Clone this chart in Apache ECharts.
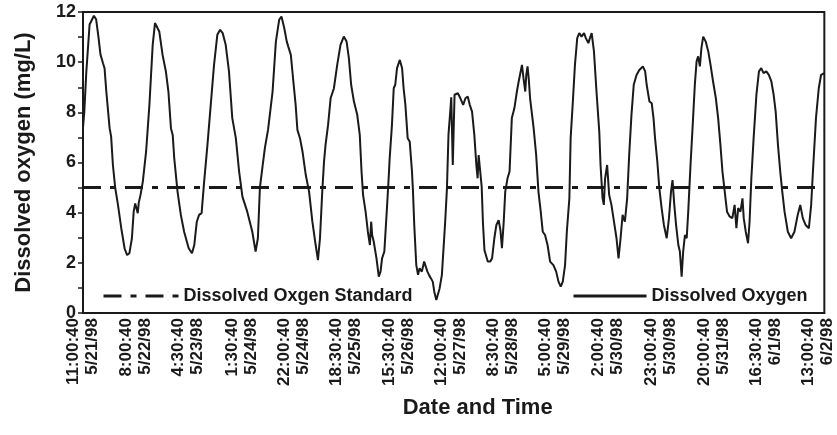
<!DOCTYPE html>
<html>
<head>
<meta charset="utf-8">
<script src="https://cdn.jsdelivr.net/npm/echarts@6/dist/echarts.min.js"></script>
<style>
  html, body { margin: 0; padding: 0; background: #fff; }
  #chart { width: 837px; height: 435px; }
</style>
</head>
<body>
<div id="chart"></div>
<script>
// hours after 5/21/98 11:00:40 where the category labels sit
const tickHours = [0, 21, 41.5, 62.5, 83, 103.5, 124.5, 145, 165.5, 186, 207, 228, 249, 269.5, 290]
const tickTimes = ['11:00:40', '8:00:40', '4:30:40', '1:30:40', '22:00:40', '18:30:40', '15:30:40',
  '12:00:40', '8:30:40', '5:00:40', '2:00:40', '23:00:40', '20:00:40', '16:30:40', '13:00:40']
const tickDates = ['5/21/98', '5/22/98', '5/23/98', '5/24/98', '5/24/98', '5/25/98', '5/26/98',
  '5/27/98', '5/28/98', '5/29/98', '5/30/98', '5/30/98', '5/31/98', '6/1/98', '6/2/98']

// dissolved oxygen readings (mg/L)
const elapsedHours = [
  0.0, 0.5, 1.3, 2.6, 4.3, 5.2, 6.1, 6.9, 7.9, 8.5, 9.2, 10.5, 11.1, 11.8, 12.7, 13.8, 15.1, 16.4, 17.4, 18.3,
  19.3, 20.0, 20.6, 21.3, 21.6, 22.0, 22.7, 23.6, 24.9, 26.2, 27.5, 28.4, 28.9, 30.1, 31.4, 32.7, 33.7, 34.7, 35.4, 36.0,
  37.3, 38.6, 39.9, 41.7, 43.0, 43.9, 44.9, 45.8, 46.8, 47.8, 49.1, 50.4, 51.7, 53.0, 54.1, 55.1, 56.3, 57.6, 58.9, 60.3,
  61.6, 62.9, 64.8, 66.8, 68.1, 69.0, 69.8, 70.9, 71.8, 73.0, 74.8, 76.1, 77.4, 78.3, 79.4, 80.4, 81.0, 81.5, 82.0, 83.0,
  83.9, 84.6, 85.6, 86.6, 87.9, 89.2, 90.5, 91.8, 92.7, 93.5, 94.4, 95.1, 95.7, 96.7, 97.7, 99.0, 100.3, 101.6, 102.9, 104.0,
  104.9, 105.8, 106.9, 108.2, 109.2, 109.9, 110.5, 111.5, 112.4, 113.2, 113.7, 114.1, 114.7, 115.8, 116.7, 117.4, 118.0, 118.9, 120.0, 120.6,
  121.0, 121.9, 122.6, 123.2, 123.9, 125.0, 125.9, 126.5, 127.2, 128.1, 128.9, 129.8, 130.2, 130.7, 131.5, 132.2, 132.8, 133.7, 134.6, 135.3,
  135.9, 136.6, 137.3, 138.0, 138.6, 139.4, 139.9, 140.7, 141.6, 142.5, 142.9, 143.6, 144.2, 144.9, 145.3, 145.9, 146.6, 147.9, 148.9, 150.0,
  150.9, 151.8, 152.6, 153.5, 154.4, 155.2, 155.7, 156.1, 156.8, 157.3, 157.8, 158.4, 159.7, 160.7, 161.4, 162.3, 163.1, 164.0, 164.7, 165.3,
  166.0, 166.6, 167.5, 168.3, 169.2, 170.2, 171.2, 171.9, 172.5, 173.2, 173.8, 174.5, 174.9, 175.4, 175.9, 176.4, 177.8, 178.8, 179.7, 180.6,
  181.4, 182.3, 183.3, 184.3, 185.6, 186.7, 187.6, 188.5, 189.3, 190.2, 190.9, 191.5, 191.9, 192.4, 193.2, 194.1, 195.0, 195.8, 196.7, 197.7,
  198.4, 199.4, 200.0, 200.7, 201.6, 202.6, 203.7, 204.2, 205.0, 205.5, 206.0, 206.8, 207.6, 208.5, 209.5, 210.5, 211.3, 212.1, 212.9, 213.8,
  214.7, 215.5, 216.4, 217.3, 218.4, 219.5, 220.9, 221.8, 222.4, 223.5, 224.4, 225.1, 225.7, 226.6, 227.4, 228.3, 229.2, 230.3, 231.2, 232.0,
  232.6, 233.3, 234.0, 234.9, 235.5, 236.2, 236.8, 237.5, 238.2, 238.8, 239.7, 240.5, 241.4, 242.1, 242.7, 243.4, 244.0, 244.7, 245.7, 246.7,
  247.6, 248.6, 249.7, 250.6, 251.5, 252.3, 253.2, 254.1, 255.2, 256.2, 257.1, 257.8, 258.5, 259.4, 260.2, 260.7, 261.5, 262.4, 263.0, 263.7,
  264.6, 265.7, 266.7, 267.6, 268.5, 269.6, 270.6, 271.6, 272.5, 273.3, 274.2, 275.1, 275.9, 276.8, 278.1, 279.4, 280.7, 282.0, 283.0, 284.0,
  285.1, 286.4, 287.3, 288.0, 289.2, 290.3, 291.2, 292.5
]
const oxygen = [
  7.4, 8.0, 9.6, 11.5, 11.85, 11.7, 11.0, 10.3, 9.96, 9.76, 8.83, 7.37, 7.03, 5.9, 5.0, 4.31, 3.38, 2.58, 2.31, 2.38,
  2.98, 4.04, 4.37, 4.3, 3.98, 4.4, 4.71, 5.24, 6.44, 8.3, 10.69, 11.56, 11.62, 11.22, 10.29, 9.63, 8.83, 7.37, 7.1, 6.17,
  4.84, 3.91, 3.24, 2.58, 2.38, 2.71, 3.64, 3.91, 3.98, 5.24, 6.7, 8.3, 9.89, 11.09, 11.29, 11.16, 10.69, 9.63, 7.77, 6.97,
  5.64, 4.64, 4.04, 3.24, 2.45, 2.98, 5.0, 5.9, 6.6, 7.3, 8.83, 10.82, 11.69, 11.82, 11.36, 10.82, 10.62, 10.68, 10.29, 9.23,
  8.3, 7.3, 6.97, 6.44, 5.5, 4.84, 3.64, 2.71, 2.11, 2.98, 4.84, 6.04, 6.7, 7.5, 8.56, 8.96, 9.89, 10.69, 11.02, 10.82,
  10.16, 9.1, 8.43, 7.9, 7.1, 5.64, 4.71, 4.04, 3.24, 2.71, 3.64, 3.1, 2.85, 2.18, 1.45, 1.65, 2.18, 2.45, 4.31, 5.37,
  6.17, 7.5, 8.96, 9.1, 9.76, 10.09, 9.76, 8.96, 8.3, 6.97, 6.84, 5.64, 4.84, 3.51, 1.91, 1.52, 1.78, 1.65, 2.05, 1.98,
  1.65, 1.5, 1.38, 1.25, 0.85, 0.52, 0.58, 0.98, 1.52, 2.98, 3.64, 4.97, 7.1, 8.03, 8.6, 5.9, 8.7, 8.76, 8.56, 8.3,
  8.56, 8.63, 8.3, 8.03, 7.1, 5.9, 5.37, 6.3, 6.37, 5.04, 3.6, 2.5, 2.05, 2.05, 2.18, 2.98, 3.51, 3.7, 3.3, 2.58,
  3.64, 4.84, 5.37, 5.64, 7.77, 8.16, 8.83, 9.23, 9.3, 9.89, 9.36, 8.83, 9.49, 9.83, 9.3, 8.56, 7.37, 6.3, 4.84, 4.04,
  3.24, 3.11, 2.71, 2.05, 1.91, 1.65, 1.25, 1.05, 1.25, 1.91, 3.24, 4.04, 4.57, 6.97, 8.3, 9.89, 10.96, 11.16, 11.02, 11.16,
  10.96, 10.76, 10.96, 11.16, 10.43, 8.83, 7.23, 5.9, 4.57, 4.31, 5.37, 5.9, 4.71, 4.31, 3.64, 2.98, 2.18, 2.98, 3.91, 3.64,
  4.57, 6.3, 7.9, 9.1, 9.49, 9.69, 9.83, 9.63, 9.1, 8.43, 8.36, 7.77, 6.97, 6.04, 4.97, 4.18, 3.51, 2.98, 3.78, 4.84,
  5.3, 4.31, 3.51, 2.71, 2.45, 1.45, 2.45, 3.11, 2.98, 4.04, 5.9, 7.37, 9.1, 10.03, 10.23, 9.83, 10.56, 11.02, 10.82, 10.43,
  9.89, 9.23, 8.56, 7.77, 6.7, 5.64, 4.84, 4.04, 3.84, 3.78, 4.31, 3.38, 4.18, 4.04, 4.57, 3.78, 3.24, 2.78, 3.64, 5.37,
  6.97, 8.7, 9.63, 9.76, 9.56, 9.63, 9.49, 9.23, 8.7, 8.03, 6.7, 5.64, 4.84, 4.04, 3.24, 2.98, 3.24, 3.91, 4.31, 3.78,
  3.51, 3.38, 4.31, 5.64, 7.77, 8.96, 9.49, 9.56
]
const standardLevel = 5
const axisEndHours = 292.5

const ink = '#1a1a1a'
const font = 'Liberation Sans, Arial, Helvetica, sans-serif'
const legendText = { fontSize: 18, fontWeight: 'bold', color: ink, fontFamily: font }

const chart = echarts.init(document.getElementById('chart'))
chart.setOption({
  animation: false,
  textStyle: { fontFamily: font, color: ink, fontWeight: 'bold' },
  grid: {
    left: 83,
    right: 10,
    top: 12,
    bottom: 122,
    show: true,
    borderColor: ink,
    borderWidth: 2,
  },
  legend: [
    {
      data: ['Dissolved Oxgen Standard'],
      left: 102,
      top: 287,
      padding: 0,
      itemWidth: 75,
      itemHeight: 20,
      itemStyle: { opacity: 0 },
      lineStyle: { width: 3 },
      textStyle: legendText,
    },
    {
      data: ['Dissolved Oxygen'],
      left: 572,
      top: 287,
      padding: 0,
      itemWidth: 73,
      itemHeight: 20,
      itemStyle: { opacity: 0 },
      lineStyle: { width: 3 },
      textStyle: legendText,
    },
  ],
  xAxis: {
    type: 'value',
    min: 0,
    max: axisEndHours,
    name: 'Date and Time',
    nameLocation: 'middle',
    nameGap: 84,
    nameTextStyle: { fontSize: 22, fontWeight: 'bold', color: ink, padding: [0, 0, 0, 48] },
    splitLine: { show: false },
    axisLine: { lineStyle: { color: ink, width: 2 } },
    axisTick: { show: false },
    axisLabel: {
      customValues: tickHours,
      rotate: 90,
      margin: 5,
      fontSize: 17,
      lineHeight: 19,
      fontWeight: 'bold',
      color: ink,
      formatter: (v) => {
        const i = tickHours.indexOf(v)
        return i < 0 ? '' : tickTimes[i] + '\n' + tickDates[i]
      },
    },
  },
  yAxis: {
    type: 'value',
    min: 0,
    max: 12,
    interval: 1,
    name: 'Dissolved oxygen (mg/L)',
    nameLocation: 'middle',
    nameRotate: 90,
    nameGap: 48,
    nameTextStyle: { fontSize: 22, fontWeight: 'bold', color: ink },
    splitLine: { show: false },
    axisLine: { show: true, lineStyle: { color: ink, width: 2 } },
    axisTick: { show: true, length: 5, lineStyle: { color: ink, width: 1.5 } },
    axisLabel: {
      margin: 7,
      fontSize: 18,
      fontWeight: 'bold',
      color: ink,
      formatter: (v) => (v % 2 === 0 ? String(v) : ''),
    },
  },
  series: [
    {
      name: 'Dissolved Oxgen Standard',
      type: 'line',
      symbol: 'none',
      data: [[0, standardLevel], [axisEndHours, standardLevel]],
      lineStyle: { color: ink, width: 3, type: [18, 9, 6, 9] },
      itemStyle: { color: ink },
    },
    {
      name: 'Dissolved Oxygen',
      type: 'line',
      symbol: 'none',
      data: elapsedHours.map((h, i) => [h, oxygen[i]]),
      lineStyle: { color: ink, width: 2 },
      itemStyle: { color: ink },
    },
  ],
})
</script>
</body>
</html>
